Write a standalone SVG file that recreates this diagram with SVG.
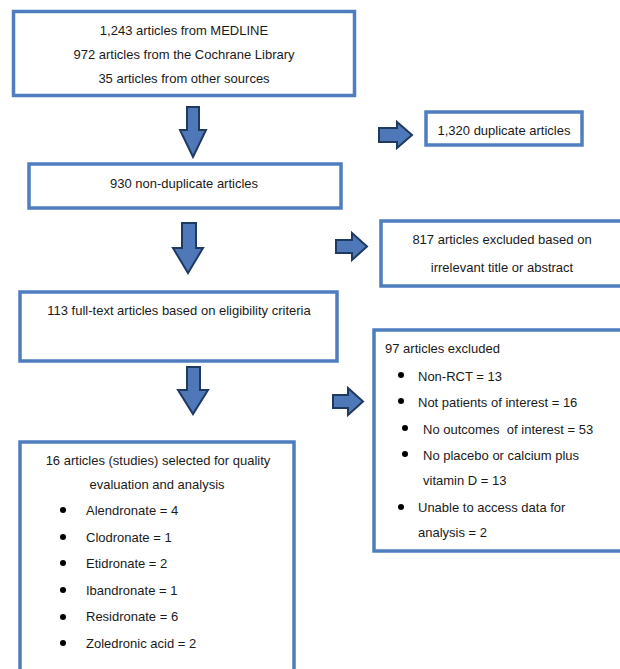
<svg xmlns="http://www.w3.org/2000/svg" width="620" height="669" viewBox="0 0 620 669">
<style>
.box{fill:#fff;stroke:#4F7EC0;stroke-width:3.5}
.arr{fill:#4F78B8;stroke:#1F3A60;stroke-width:2;stroke-linejoin:miter}
text{font-family:"Liberation Sans",Arial,sans-serif;font-size:13px;fill:#1a1a1a}
.c{text-anchor:middle}
.dot{fill:#000}
</style>
<rect width="620" height="669" fill="#fff"/>
<g id="connectors">
<polygon class="arr" points="187,107 199,107 199,130 206,130 193,157 180,130 187,130"/>
<polygon class="arr" points="182,223 196,223 196,248 203,248 188,273 173,248 182,248"/>
<polygon class="arr" points="187,367 200,367 200,390 208,390 193,414 178,390 187,390"/>
<polygon class="arr" points="379,128 397,128 397,122 412,135 397,148 397,142 379,142"/>
<polygon class="arr" points="336,240 352,240 352,233 367,246.5 352,260 352,253 336,253"/>
<polygon class="arr" points="333,395 348,395 348,388 363,401.5 348,415 348,408 333,408"/>
</g>
<g id="sources">
<rect class="box" x="13.5" y="11.5" width="341" height="84"/>
<text class="c" x="184" y="35">1,243 articles from MEDLINE</text>
<text class="c" x="184" y="59">972 articles from the Cochrane Library</text>
<text class="c" x="184" y="83">35 articles from other sources</text>
</g>
<g id="duplicates">
<rect class="box" x="426" y="112" width="156" height="33"/>
<text class="c" x="504" y="135">1,320 duplicate articles</text>
</g>
<g id="nonduplicate">
<rect class="box" x="29" y="164" width="312" height="44"/>
<text class="c" x="184" y="188">930 non-duplicate articles</text>
</g>
<g id="excluded817">
<rect class="box" x="381" y="221" width="250" height="65"/>
<text class="c" x="502" y="244">817 articles excluded based on</text>
<text class="c" x="502" y="272">irrelevant title or abstract</text>
</g>
<g id="fulltext">
<rect class="box" x="20" y="292" width="317" height="69"/>
<text class="c" x="179" y="315">113 full-text articles based on eligibility criteria</text>
</g>
<g id="excluded97">
<rect class="box" x="374" y="330" width="260" height="221"/>
<text x="385" y="353">97 articles excluded</text>
<circle class="dot" cx="401" cy="375" r="3"/>
<text x="418" y="381">Non-RCT = 13</text>
<circle class="dot" cx="401" cy="401" r="3"/>
<text x="418" y="407">Not patients of interest = 16</text>
<circle class="dot" cx="405" cy="428" r="3"/>
<text x="423" y="434" xml:space="preserve">No outcomes  of interest = 53</text>
<circle class="dot" cx="405" cy="454" r="3"/>
<text x="423" y="460">No placebo or calcium plus</text>
<text x="423" y="485">vitamin D = 13</text>
<circle class="dot" cx="401" cy="507" r="3"/>
<text x="418" y="512">Unable to access data for</text>
<text x="418" y="537">analysis = 2</text>
</g>
<g id="selected">
<rect class="box" x="20" y="442" width="274" height="245"/>
<text class="c" x="158" y="465">16 articles (studies) selected for quality</text>
<text class="c" x="157" y="489">evaluation and analysis</text>
<circle class="dot" cx="63" cy="510" r="3"/>
<text x="86" y="515">Alendronate = 4</text>
<circle class="dot" cx="63" cy="537" r="3"/>
<text x="86" y="542">Clodronate = 1</text>
<circle class="dot" cx="63" cy="563" r="3"/>
<text x="86" y="568">Etidronate = 2</text>
<circle class="dot" cx="63" cy="590" r="3"/>
<text x="86" y="595">Ibandronate = 1</text>
<circle class="dot" cx="63" cy="617" r="3"/>
<text x="86" y="621">Residronate = 6</text>
<circle class="dot" cx="63" cy="643" r="3"/>
<text x="86" y="648">Zoledronic acid = 2</text>
</g>
</svg>
